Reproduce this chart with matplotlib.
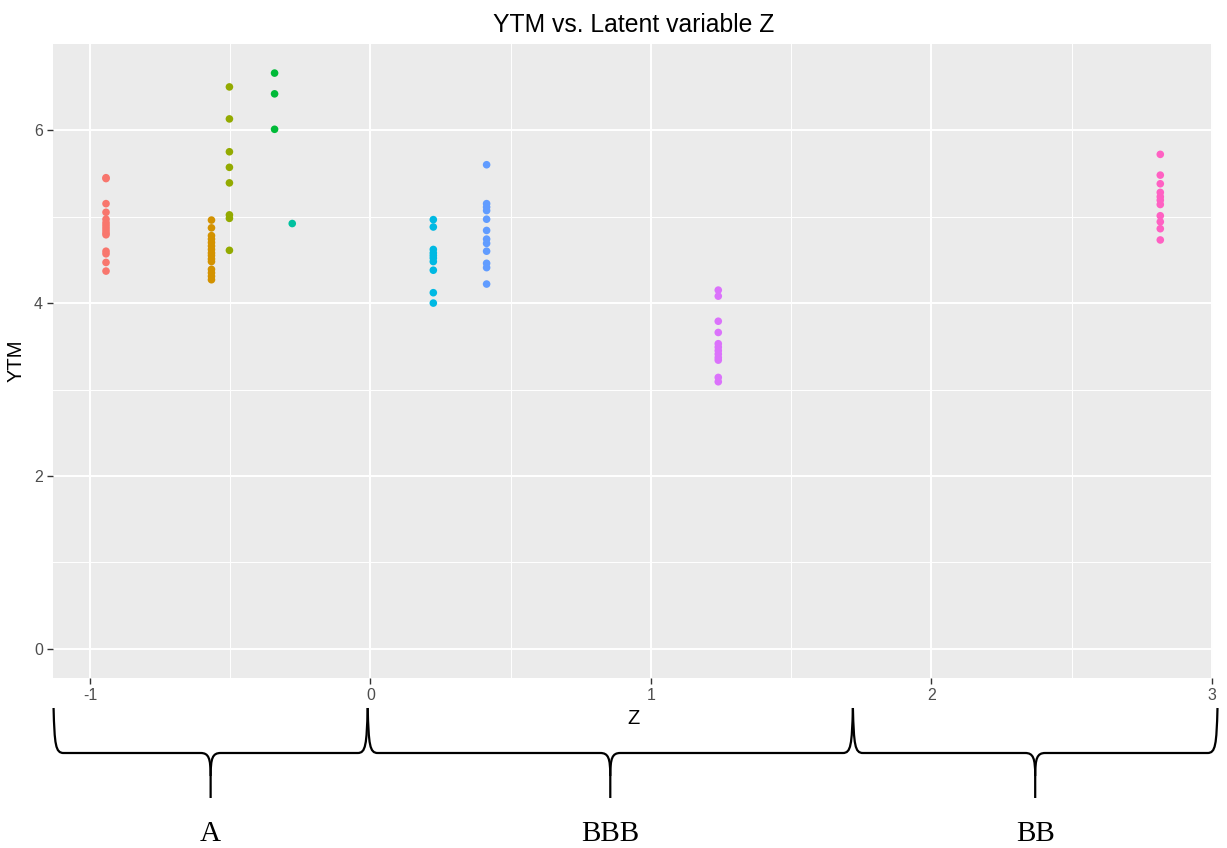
import matplotlib
matplotlib.use("Agg")
import matplotlib.pyplot as plt
from matplotlib.path import Path
from matplotlib.patches import PathPatch
from matplotlib.ticker import MultipleLocator, FuncFormatter

# latent variable Z per issuer and the YTM of its bonds
z_values = [-0.943, -0.567, -0.503, -0.342, -0.279, 0.224, 0.414, 1.24, 2.816]

ytm_red = [5.45, 5.44, 5.15, 5.05, 4.97, 4.93, 4.90, 4.87, 4.84, 4.81, 4.79, 4.60, 4.57, 4.47, 4.37]
ytm_orange = [4.96, 4.87, 4.78, 4.74, 4.70, 4.66, 4.62, 4.58, 4.55, 4.51, 4.48, 4.39, 4.35, 4.31, 4.27]
ytm_olive = [6.50, 6.13, 5.75, 5.57, 5.39, 5.02, 4.98, 4.61]
ytm_green = [6.66, 6.42, 6.01]
ytm_teal = [4.92]
ytm_cyan = [4.965, 4.88, 4.62, 4.58, 4.55, 4.52, 4.48, 4.38, 4.12, 4.00]
ytm_blue = [5.60, 5.15, 5.11, 5.07, 4.97, 4.84, 4.74, 4.69, 4.60, 4.46, 4.41, 4.22]
ytm_purple = [4.15, 4.08, 3.79, 3.66, 3.53, 3.49, 3.45, 3.41, 3.37, 3.34, 3.14, 3.09]
ytm_pink = [5.72, 5.48, 5.38, 5.28, 5.23, 5.19, 5.14, 5.01, 4.94, 4.86, 4.73]

ytm_groups = [ytm_red, ytm_orange, ytm_olive, ytm_green, ytm_teal,
              ytm_cyan, ytm_blue, ytm_purple, ytm_pink]
colors = ["#F8766D", "#D39200", "#93AA00", "#00BA38", "#00C19F",
          "#00B9E3", "#619CFF", "#DB72FB", "#FF61C3"]

# rating brackets below the axis
rating_labels = ["A", "BBB", "BB"]
rating_bounds = [-1.13, -0.01, 1.72, 3.02]

W, H = 1227, 848
fig = plt.figure(figsize=(W / 100, H / 100), dpi=100)
ax = fig.add_axes([53.3 / W, 1 - 677.7 / H, (1213 - 53.3) / W, (677.7 - 44.3) / H])
ax.set_facecolor("#EBEBEB")

for z, ys, c in zip(z_values, ytm_groups, colors):
    ax.scatter([z] * len(ys), ys, s=30, color=c, edgecolors="none", zorder=3)

# ggplot-like limits: 5% expansion, y includes 0
all_y = [v for g in ytm_groups for v in g] + [0]
xmin, xmax = min(z_values), max(z_values)
ymin, ymax = min(all_y), max(all_y)
ax.set_xlim(xmin - 0.05 * (xmax - xmin), xmax + 0.05 * (xmax - xmin))
ax.set_ylim(ymin - 0.05 * (ymax - ymin), ymax + 0.05 * (ymax - ymin))

ax.xaxis.set_major_locator(MultipleLocator(1))
ax.xaxis.set_minor_locator(MultipleLocator(0.5))
ax.yaxis.set_major_locator(MultipleLocator(2))
ax.yaxis.set_minor_locator(MultipleLocator(1))
ax.xaxis.set_major_formatter(FuncFormatter(lambda v, p: f"{v:g}"))
ax.grid(which="major", color="white", lw=1.4, zorder=0)
ax.grid(which="minor", color="white", lw=0.7, zorder=0)
ax.set_axisbelow(True)
for s in ax.spines.values():
    s.set_visible(False)
ax.tick_params(which="major", length=4.5, width=1, color="#333333",
               labelsize=11.5, labelcolor="#4D4D4D", pad=3)
ax.tick_params(which="minor", length=0)
for lab in ax.get_xticklabels() + ax.get_yticklabels():
    lab.set_fontfamily("Liberation Sans")

ax.set_xlabel("Z", fontsize=14.5, fontfamily="Liberation Sans", labelpad=4)
ax.set_ylabel("YTM", fontsize=14.5, fontfamily="Liberation Sans", labelpad=6)
ax.set_title("YTM vs. Latent variable Z", fontsize=17.8, fontfamily="Liberation Sans", pad=9)

# overlay in pixel coordinates for the braces
ov = fig.add_axes([0, 0, 1, 1], zorder=5)
ov.set_xlim(0, W)
ov.set_ylim(H, 0)
ov.axis("off")
fig.canvas.draw()


def px(xd):
    return ax.transData.transform((xd, 0))[0]


y_top, y_bar, y_tip = 708, 753, 798


def brace(x0, x1, label):
    xm = (x0 + x1) / 2
    verts = [(x0, y_top), (x0 + 1, 745), (x0 + 2, y_bar), (x0 + 10, y_bar),
             (xm - 10, y_bar), (xm - 2, y_bar), (xm, 758), (xm, 776),
             (xm, y_tip)]
    codes = [Path.MOVETO, Path.CURVE4, Path.CURVE4, Path.CURVE4,
             Path.LINETO, Path.CURVE4, Path.CURVE4, Path.CURVE4, Path.LINETO]
    verts2 = [(x1, y_top), (x1 - 1, 745), (x1 - 2, y_bar), (x1 - 10, y_bar),
              (xm + 10, y_bar), (xm + 2, y_bar), (xm, 758), (xm, 776)]
    codes2 = codes[:-1]
    for v, c in ((verts, codes), (verts2, codes2)):
        ov.add_patch(PathPatch(Path(v, c), fill=False, lw=1.6, color="black",
                               capstyle="butt", joinstyle="round"))
    ov.text(xm, 834, label, ha="center", va="center", fontsize=21,
            fontfamily="Liberation Serif", color="black")


for i, lab in enumerate(rating_labels):
    brace(px(rating_bounds[i]), px(rating_bounds[i + 1]), lab)

fig.savefig("out.png", dpi=100)
